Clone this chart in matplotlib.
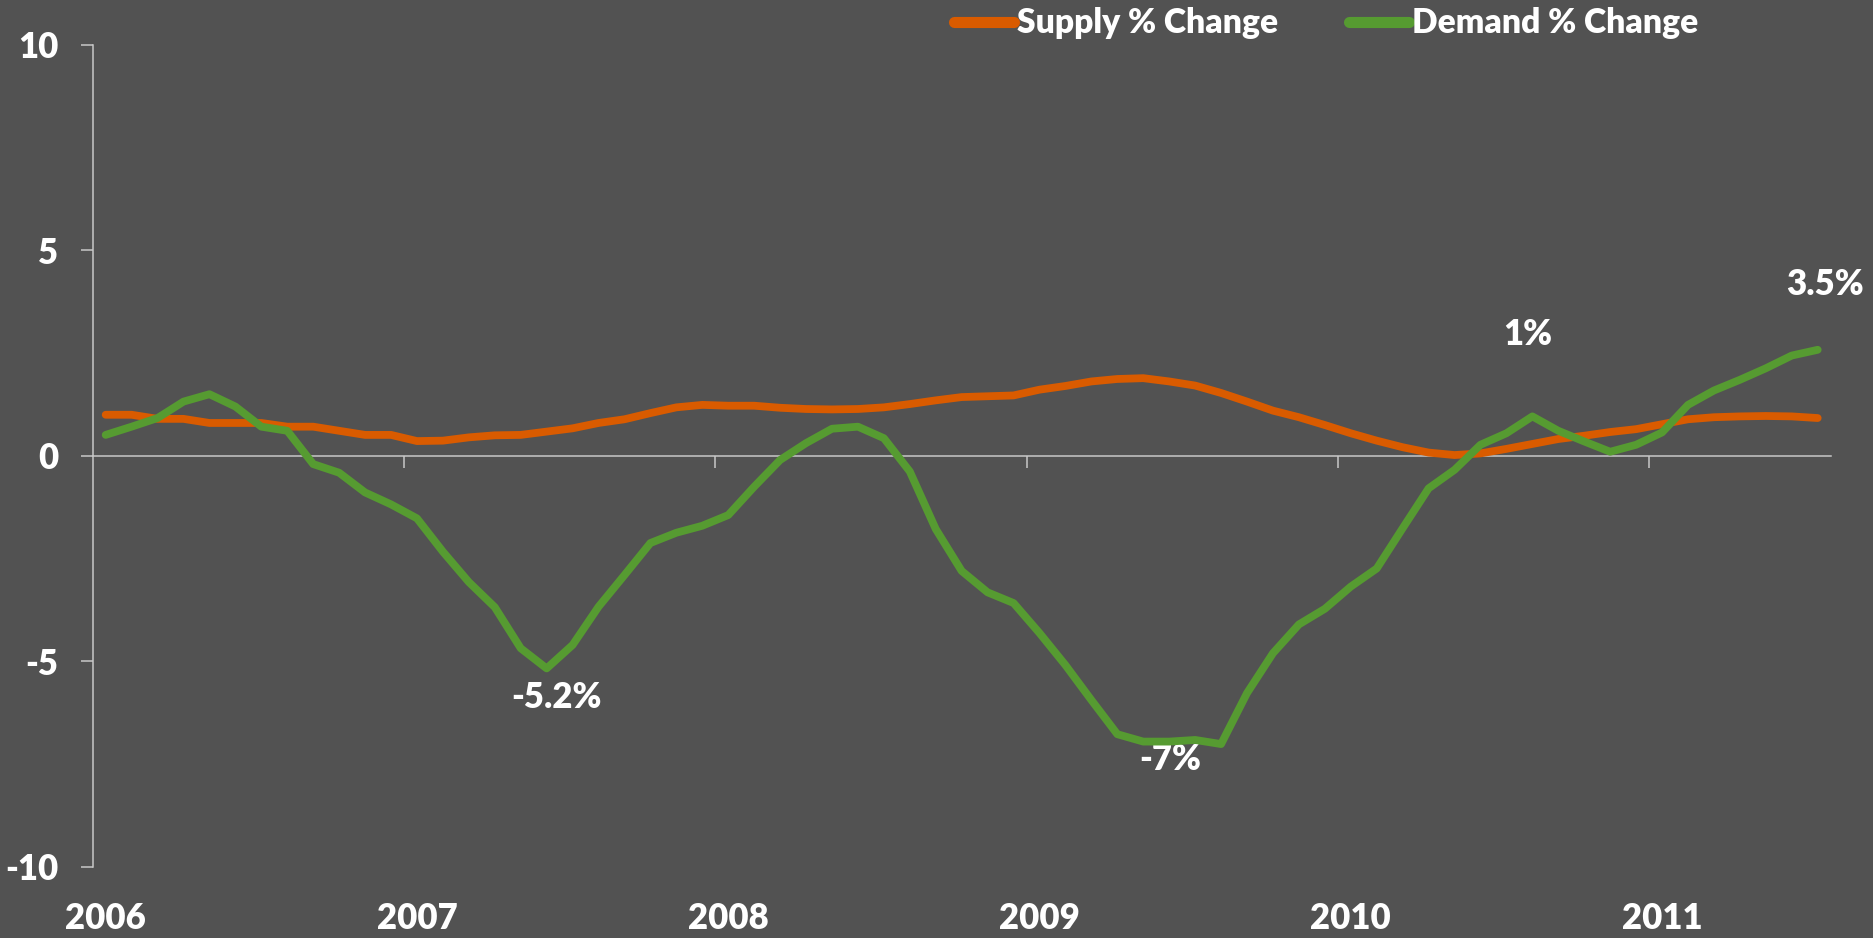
import matplotlib
matplotlib.use("Agg")
import matplotlib.pyplot as plt
import matplotlib.transforms as mtransforms
import numpy as np

# monthly values, Jan 2006 .. Jul 2011
supply = [1.00, 1.00, 0.90, 0.90, 0.80, 0.80, 0.80, 0.71, 0.71, 0.61, 0.51, 0.51,
          0.36, 0.37, 0.45, 0.50, 0.51, 0.59, 0.67, 0.80, 0.89, 1.04, 1.18, 1.24,
          1.22, 1.22, 1.17, 1.14, 1.13, 1.14, 1.18, 1.26, 1.35, 1.43, 1.45, 1.47,
          1.61, 1.70, 1.81, 1.87, 1.89, 1.81, 1.71, 1.53, 1.32, 1.10, 0.94, 0.75,
          0.55, 0.37, 0.21, 0.08, 0.02, 0.06, 0.17, 0.29, 0.41, 0.49, 0.58, 0.65,
          0.77, 0.89, 0.94, 0.96, 0.97, 0.96, 0.92]
demand = [0.51, 0.71, 0.92, 1.32, 1.50, 1.20, 0.71, 0.61, -0.20, -0.41, -0.89, -1.18,
          -1.52, -2.33, -3.07, -3.68, -4.68, -5.17, -4.60, -3.67, -2.90, -2.12, -1.87, -1.70,
          -1.44, -0.75, -0.10, 0.31, 0.66, 0.71, 0.43, -0.38, -1.78, -2.80, -3.32, -3.58,
          -4.31, -5.09, -5.94, -6.77, -6.95, -6.95, -6.91, -7.01, -5.77, -4.80, -4.10, -3.72,
          -3.18, -2.74, -1.76, -0.79, -0.34, 0.27, 0.55, 0.96, 0.61, 0.35, 0.10, 0.27,
          0.57, 1.24, 1.59, 1.85, 2.13, 2.44, 2.58]
years = ['2006', '2007', '2008', '2009', '2010', '2011']
y_ticks = [-10, -5, 0, 5, 10]
y_tick_labels = ['-10', '-5', '0', '5', '10']

# (month index, text, offset in points)
callouts = [(17, '-5.2%', (7, -21)),
            (41, '-7%', (1, -13)),
            (55, '1%', (-3, 59)),
            (66, '3.5%', (5, 47))]

plt.rcParams['font.family'] = ['Lato', 'DejaVu Sans']
heavy = 800

bg = '#525252'
axis_col = '#C8C8C8'
c_supply = '#D95B00'
c_demand = '#569B31'

fig = plt.figure(figsize=(18.73, 9.38), dpi=100, facecolor=bg)
ax = fig.add_axes([0.0495, 0.0757, 0.9279, 0.8766], facecolor=bg)

x = np.arange(len(supply))
ax.plot(x, supply, color=c_supply, lw=5.6, solid_capstyle='round',
        solid_joinstyle='round', label='Supply % Change', zorder=3)
ax.plot(x, demand, color=c_demand, lw=5.6, solid_capstyle='round',
        solid_joinstyle='round', label='Demand % Change', zorder=4)

ax.set_xlim(-0.5, len(supply) - 0.5)
ax.set_ylim(-10, 10)

for s in ['top', 'right']:
    ax.spines[s].set_visible(False)
ax.spines['left'].set_color(axis_col)
ax.spines['left'].set_linewidth(1.1)
ax.spines['bottom'].set_position(('data', 0))
ax.spines['bottom'].set_color(axis_col)
ax.spines['bottom'].set_linewidth(1.1)

ax.set_yticks(y_ticks)
ax.set_yticklabels(y_tick_labels, fontweight=heavy)
ax.tick_params(axis='y', direction='out', length=8.6, width=1.1, color=axis_col,
               labelcolor='white', labelsize=25, pad=16)

ax.set_xticks(np.arange(-0.5, len(supply) - 1, 12)[1:])
ax.tick_params(axis='x', direction='out', length=8.6, width=1.1, color=axis_col,
               labelbottom=False)

trans = mtransforms.blended_transform_factory(ax.transData, ax.transAxes)
for k, yr in enumerate(years):
    ax.text(k * 12, -0.0626, yr, transform=trans, ha='center', va='center',
            color='white', fontsize=25, fontweight=heavy)

for i, txt, off in callouts:
    ax.annotate(txt, xy=(i, demand[i]), xytext=off, textcoords='offset points',
                ha='center', va='center', color='white', fontsize=25,
                fontweight=heavy)

leg = fig.legend(loc='center', bbox_to_anchor=(0.708, 0.975), ncol=2,
                 frameon=False, fontsize=24.2, handlelength=1.78,
                 handletextpad=0.1, columnspacing=2.1)
for t in leg.get_texts():
    t.set_color('white')
    t.set_fontweight(heavy)
for h in leg.legend_handles:
    h.set_linewidth(8)

fig.savefig('out.png', dpi=100, facecolor=bg)
